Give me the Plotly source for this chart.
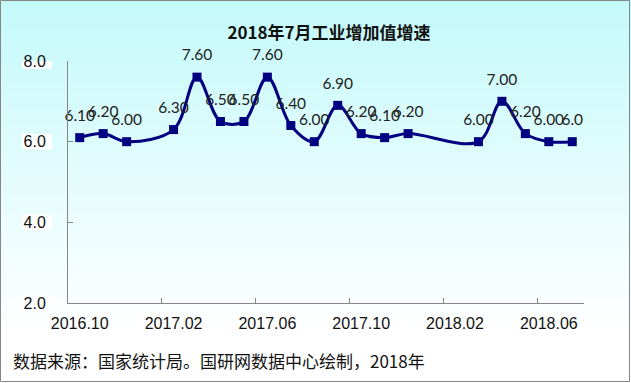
import plotly.graph_objects as go

# ---- data ----
months = ["2016.10", "2016.11", "2016.12", "2017.01", "2017.02", "2017.03", "2017.04",
          "2017.05", "2017.06", "2017.07", "2017.08", "2017.09", "2017.10", "2017.11",
          "2017.12", "2018.01", "2018.02", "2018.03", "2018.04", "2018.05", "2018.06",
          "2018.07"]
growth = [6.1, 6.2, 6.0, None, 6.3, 7.6, 6.5, 6.5, 7.6, 6.4, 6.0, 6.9, 6.2, 6.1,
          6.2, None, None, 6.0, 7.0, 6.2, 6.0, 6.0]
point_labels = ["6.10", "6.20", "6.00", "", "6.30", "7.60", "6.50", "6.50", "7.60", "6.40",
                "6.00", "6.90", "6.20", "6.10", "6.20", "", "", "6.00", "7.00", "6.20",
                "6.00", "6.0"]
y_ticks = [2.0, 4.0, 6.0, 8.0]

title_text = "2018年7月工业增加值增速"
source_text = "数据来源：国家统计局。国研网数据中心绘制，2018年"

# ---- layout geometry (pixels) ----
W, H = 631, 383
ML, MR, MT, MB = 68, 47, 61, 80
PW, PH = W - ML - MR, H - MT - MB


def px_x(x):
    return (x - ML) / PW


def px_y(y):
    return (H - MB - y) / PH


fig = go.Figure()
fig.add_trace(go.Scatter(
    x=months, y=growth, mode="lines+markers",
    connectgaps=True,
    line=dict(color="#000080", width=3, shape="spline", smoothing=1),
    marker=dict(symbol="square", size=9, color="#000080"),
    hoverinfo="x+y", showlegend=False,
))
# data labels (invisible larger markers give the label offset)
fig.add_trace(go.Scatter(
    x=months, y=growth, mode="markers+text",
    marker=dict(size=19, opacity=0),
    text=point_labels, textposition="top center",
    textfont=dict(family="Lato, Noto Sans, sans-serif", size=15.5, color="#222222"),
    cliponaxis=False, hoverinfo="skip", showlegend=False,
))

shapes = []
# background vertical gradient (cyan -> white)
n = 60
top = (196, 249, 250)
grad_end = 330
for i in range(n):
    y0 = grad_end * i / n
    y1 = grad_end * (i + 1) / n + 0.8
    t = (i + 0.5) / n
    c = tuple(int(round(top[k] + (255 - top[k]) * t)) for k in range(3))
    shapes.append(dict(type="rect", xref="paper", yref="paper", layer="below",
                       x0=px_x(-2), x1=px_x(W + 2), y0=px_y(y1), y1=px_y(y0),
                       line=dict(width=0), fillcolor="rgb(%d,%d,%d)" % c))
# white boxes behind y tick labels
for v in y_ticks:
    shapes.append(dict(type="rect", xref="paper", yref="y", layer="below",
                       x0=px_x(22), x1=px_x(52), y0=v - 0.19, y1=v + 0.19,
                       line=dict(width=0), fillcolor="white"))
# outer border
shapes.append(dict(type="rect", xref="paper", yref="paper", layer="above",
                   x0=px_x(0.5), x1=px_x(W - 1.5), y0=px_y(H - 1.5), y1=px_y(0.5),
                   line=dict(color="#868686", width=1), fillcolor="rgba(0,0,0,0)"))

fig.update_layout(
    width=W, height=H,
    margin=dict(l=ML, r=MR, t=MT, b=MB, pad=0, autoexpand=False),
    paper_bgcolor="white", plot_bgcolor="rgba(0,0,0,0)",
    shapes=shapes,
    title=dict(text="<b>" + title_text + "</b>", x=px_x(329), xref="paper", xanchor="center",
               y=1 - 33 / H, yref="container", yanchor="middle", automargin=False,
               font=dict(family="Noto Sans CJK SC", size=17, color="#111111")),
    annotations=[dict(text=source_text, xref="paper", yref="paper",
                      x=px_x(11), y=px_y(360), xanchor="left", yanchor="middle",
                      showarrow=False,
                      font=dict(family="Noto Sans CJK SC", size=17, color="#111111"))],
    xaxis=dict(type="category", categoryorder="array", categoryarray=months,
               range=[-0.5, len(months) - 0.5],
               tickmode="linear", tick0=0, dtick=4, tickson="boundaries",
               tickangle=0, automargin=False,
               ticks="inside", ticklen=5, tickcolor="#868686",
               showline=True, linecolor="#868686", linewidth=1,
               showgrid=False, zeroline=False,
               tickfont=dict(family="Liberation Sans, Arial", size=16, color="#111111"),
               ticklabelstandoff=6),
    yaxis=dict(range=[2, 8], tickvals=y_ticks, tickformat=".1f", automargin=False,
               ticks="inside", ticklen=5, tickcolor="#868686",
               showline=True, linecolor="#868686", linewidth=1,
               showgrid=False, zeroline=False,
               tickfont=dict(family="Liberation Sans, Arial", size=16, color="#111111"),
               ticklabelstandoff=18),
)

fig.write_html("out.html", config={"displayModeBar": False},
               post_script="document.body.style.margin='0';document.body.style.overflow='hidden';")
